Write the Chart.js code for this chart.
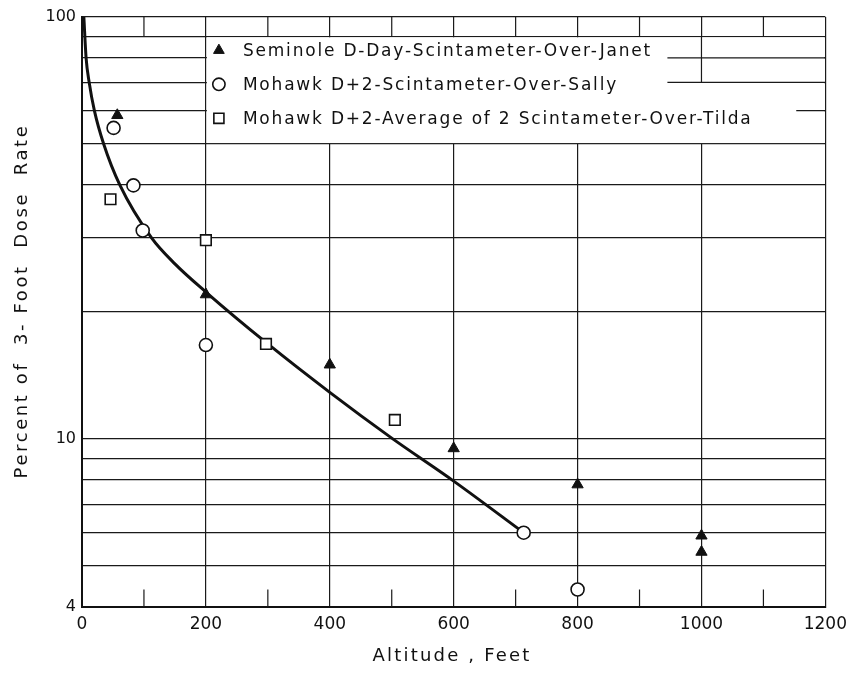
<!DOCTYPE html>
<html>
<head>
<meta charset="utf-8">
<script src="https://cdn.jsdelivr.net/npm/chart.js@4"></script>
<style>
  body { margin: 0; background: #fff; }
  canvas { display: block; }
</style>
</head>
<body>
<canvas id="chart" width="854" height="673"></canvas>
<script>
// axis ticks
const xTicks = [0, 200, 400, 600, 800, 1000, 1200];
const xMinorTicks = [100, 300, 500, 700, 900, 1100];
const yGridValues = [4, 5, 6, 7, 8, 9, 10, 20, 30, 40, 50, 60, 70, 80, 90, 100];
const yTickLabels = [4, 10, 100];

// Seminole D-Day, Scintameter over Janet
const janetAlt = [57, 200, 400, 600, 800, 1000, 1000];
const janetPct = [58.5, 22, 15, 9.5, 7.8, 5.9, 5.4];
// Mohawk D+2, Scintameter over Sally
const sallyAlt = [51, 83, 98, 200, 713, 800];
const sallyPct = [54.6, 39.9, 31.2, 16.7, 6.0, 4.4];
// Mohawk D+2, average of 2 Scintameter over Tilda
const tildaAlt = [46, 200, 297, 505];
const tildaPct = [37, 29.6, 16.8, 11.1];
// fitted curve
const fitAlt = [3, 6.6, 11.6, 20, 35, 61, 112, 150, 200, 300, 400, 500, 600, 713];
const fitPct = [100, 80, 70, 60, 50, 40, 30, 26.0, 22.3, 16.8, 12.9, 10.05, 7.95, 6.0];

const legendItems = [
  { text: 'Seminole D-Day-Scintameter-Over-Janet', style: 'triangle' },
  { text: 'Mohawk D+2-Scintameter-Over-Sally', style: 'circle' },
  { text: 'Mohawk D+2-Average of 2 Scintameter-Over-Tilda', style: 'rect' }
];

const pts = (xs, ys) => xs.map((x, i) => ({ x: x, y: ys[i] }));
const FONT = '"DejaVu Sans", sans-serif';
const INK = '#111';

const markerStyle = {
  triangle: { pointStyle: 'triangle', radius: 6.5, fill: INK, border: INK, width: 1 },
  circle: { pointStyle: 'circle', radius: 6.5, fill: '#fff', border: INK, width: 1.6 },
  rect: { pointStyle: 'rect', radius: 7.5, fill: '#fff', border: INK, width: 1.6 }
};

const decor = {
  id: 'decor',
  beforeDatasetsDraw(chart) {
    const ctx = chart.ctx;
    const xs = chart.scales.x, ys = chart.scales.y;
    ctx.save();
    ctx.strokeStyle = '#1a1a1a';
    ctx.lineWidth = 1.2;

    // minor verticals in the top band and short ticks at the bottom
    xMinorTicks.forEach(v => {
      const px = xs.getPixelForValue(v);
      ctx.beginPath();
      ctx.moveTo(px, ys.getPixelForValue(100));
      ctx.lineTo(px, ys.getPixelForValue(90));
      ctx.moveTo(px, ys.getPixelForValue(4));
      ctx.lineTo(px, ys.getPixelForValue(4.4));
      ctx.stroke();
    });

    // legend box
    const bx0 = xs.getPixelForValue(200), bx1 = xs.getPixelForValue(1200);
    const by0 = ys.getPixelForValue(90), by1 = ys.getPixelForValue(50);
    ctx.fillStyle = '#fff';
    ctx.fillRect(bx0 + 1, by0 + 1, bx1 - bx0 - 2, by1 - by0 - 2);

    // grid pieces still showing to the right of the legend text
    ctx.beginPath();
    ctx.moveTo(xs.getPixelForValue(1000), by0);
    ctx.lineTo(xs.getPixelForValue(1000), ys.getPixelForValue(70));
    [[80, 945], [70, 945], [60, 1153]].forEach(([v, from]) => {
      const py = ys.getPixelForValue(v);
      ctx.moveTo(xs.getPixelForValue(from), py);
      ctx.lineTo(bx1, py);
    });
    ctx.stroke();

    // legend entries
    ctx.font = '17px ' + FONT;
    ctx.letterSpacing = '1.8px';
    ctx.textBaseline = 'middle';
    ctx.textAlign = 'left';
    legendItems.forEach((item, i) => {
      const cy = by0 + 14 + i * 34;
      const m = markerStyle[item.style];
      ctx.fillStyle = m.fill;
      ctx.strokeStyle = m.border;
      ctx.lineWidth = m.width;
      Chart.helpers.drawPoint(ctx, { pointStyle: m.pointStyle, radius: m.radius * 0.95, borderWidth: m.width }, bx0 + 13, cy);
      ctx.fillStyle = INK;
      ctx.fillText(item.text, bx0 + 37, cy + 1);
    });

    // axis titles
    ctx.fillStyle = INK;
    ctx.font = '18px ' + FONT;
    ctx.letterSpacing = '2.2px';
    ctx.textAlign = 'center';
    ctx.fillText('Altitude , Feet', 452, 656);
    ctx.save();
    ctx.translate(22, 301);
    ctx.rotate(-Math.PI / 2);
    ctx.letterSpacing = '2.6px';
    ctx.fillText('Percent of  3- Foot  Dose  Rate', 0, 0);
    ctx.restore();
    ctx.restore();
  }
};

const scatterSet = (label, xs, ys, style, order) => {
  const m = markerStyle[style];
  return {
    type: 'scatter', label: label, data: pts(xs, ys), order: order,
    pointStyle: m.pointStyle, pointRadius: m.radius,
    pointBackgroundColor: m.fill, pointBorderColor: m.border, pointBorderWidth: m.width,
    showLine: false
  };
};

new Chart(document.getElementById('chart'), {
  type: 'scatter',
  data: {
    datasets: [
      scatterSet('Sally', sallyAlt, sallyPct, 'circle', 1),
      scatterSet('Janet', janetAlt, janetPct, 'triangle', 2),
      scatterSet('Tilda', tildaAlt, tildaPct, 'rect', 3),
      {
        type: 'line', label: 'fit', data: pts(fitAlt, fitPct), order: 4,
        borderColor: INK, borderWidth: 3, pointRadius: 0,
        cubicInterpolationMode: 'monotone', fill: false
      }
    ]
  },
  options: {
    responsive: false,
    animation: false,
    layout: { padding: { top: 17, right: 23, left: 0, bottom: 0 } },
    plugins: { legend: { display: false }, tooltip: { enabled: false } },
    scales: {
      x: {
        type: 'linear', min: 0, max: 1200,
        afterFit: s => { s.height = 66; },
        afterBuildTicks: s => { s.ticks = xTicks.map(v => ({ value: v })); },
        ticks: { padding: 7, color: INK, font: { family: FONT, size: 17 }, callback: v => String(v) },
        grid: { color: '#1a1a1a', lineWidth: 1.2, drawTicks: false },
        border: { color: INK, width: 2 }
      },
      y: {
        type: 'logarithmic', min: 4, max: 100,
        afterFit: s => { s.width = 82; },
        afterBuildTicks: s => { s.ticks = yGridValues.map(v => ({ value: v })); },
        ticks: {
          autoSkip: false, padding: 6, color: INK, font: { family: FONT, size: 16 },
          callback: v => yTickLabels.includes(v) ? String(v) : ''
        },
        grid: { color: '#1a1a1a', lineWidth: 1.2, drawTicks: false },
        border: { color: INK, width: 2 }
      }
    }
  },
  plugins: [decor]
});
</script>
</body>
</html>
